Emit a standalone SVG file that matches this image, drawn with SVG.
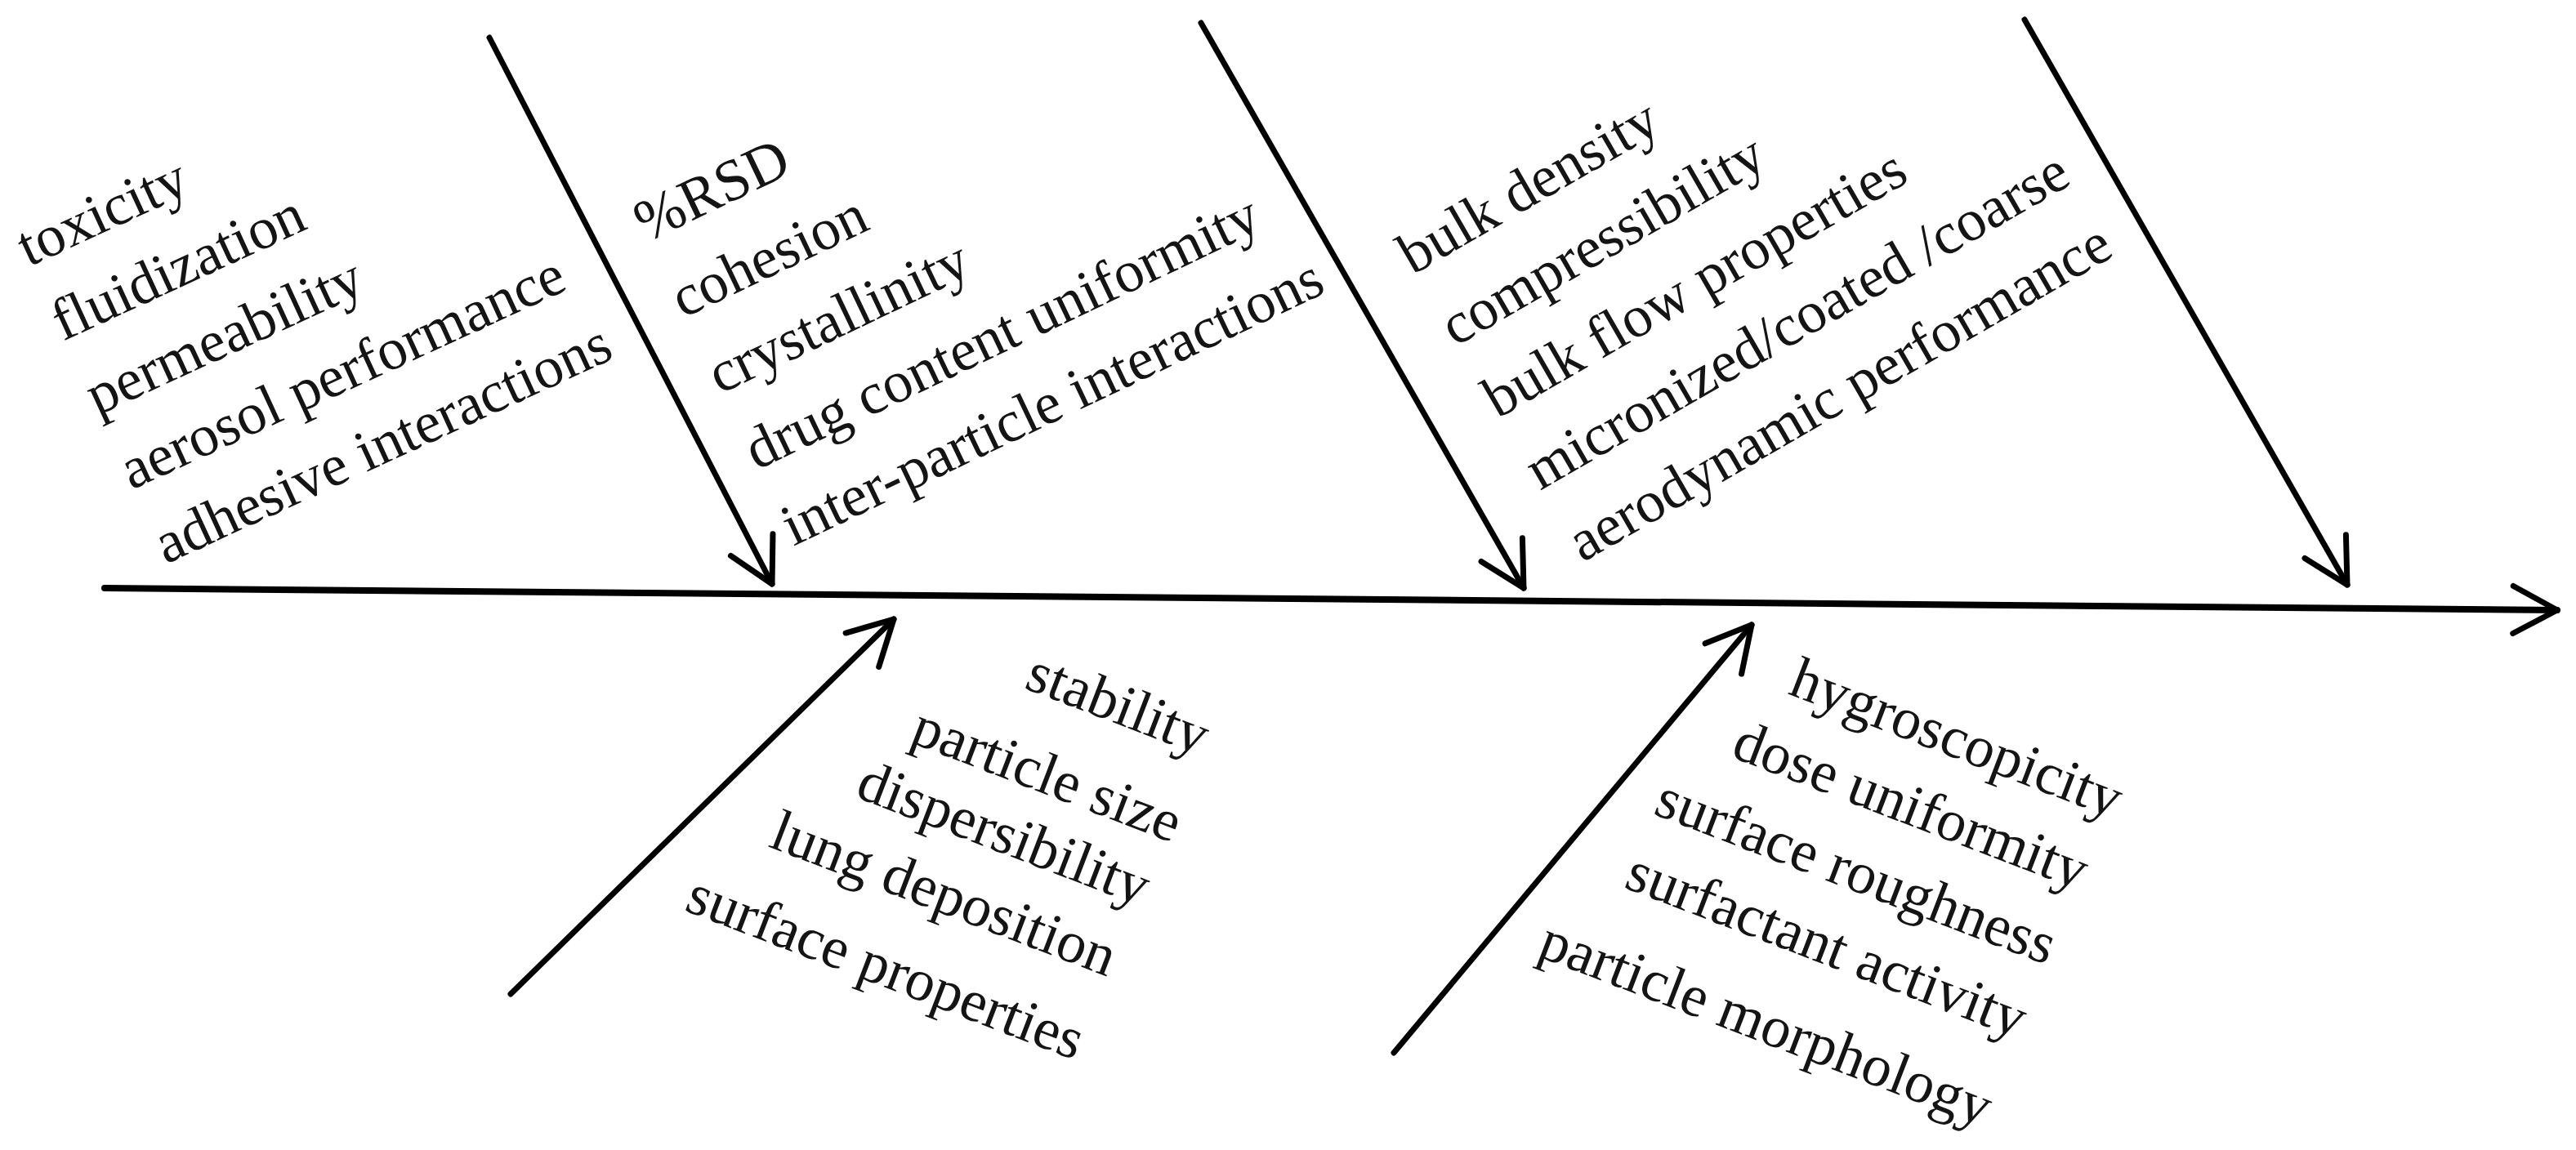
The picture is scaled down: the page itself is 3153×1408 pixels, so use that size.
<svg xmlns="http://www.w3.org/2000/svg" width="3153" height="1408" viewBox="0 0 3153 1408">
<defs>
<marker id="ah" markerUnits="userSpaceOnUse" markerWidth="90" markerHeight="90" viewBox="-70 -45 90 90" refX="0" refY="0" orient="auto">
<path d="M -54 -29 L 0 0 L -54 29" fill="none" stroke="#000" stroke-width="7" stroke-linecap="round" stroke-linejoin="round"/>
</marker>
<style>
text { font-family: "Liberation Serif", "Times New Roman", serif; font-size: 72px; fill: #141414; }
.conn { stroke: #000; stroke-width: 7; fill: none; stroke-linecap: round; marker-end: url(#ah); }
.spine { stroke-width: 8; }
</style>
</defs>
<rect x="0" y="0" width="3153" height="1408" fill="#fff"/>

<g id="connectors">
<line class="conn spine" x1="128" y1="720" x2="3130" y2="747"/>
<line class="conn" x1="599" y1="46" x2="945" y2="715"/>
<line class="conn" x1="1470" y1="28" x2="1865" y2="720"/>
<line class="conn" x1="2478" y1="24" x2="2873" y2="716"/>
<line class="conn" x1="625" y1="1217" x2="1094" y2="758"/>
<line class="conn" x1="1706" y1="1289" x2="2144" y2="765"/>
</g>

<g id="node-top1">
<text transform="translate(35,327) rotate(-24.7)">toxicity</text>
<text transform="translate(77,418) rotate(-24.7)">fluidization</text>
<text transform="translate(119,509) rotate(-24.7)">permeability</text>
<text transform="translate(161,600) rotate(-24.7)">aerosol performance</text>
<text transform="translate(203,691) rotate(-24.7)">adhesive interactions</text>
</g>

<g id="node-top2">
<text transform="translate(791,297) rotate(-25.5)">%RSD</text>
<text transform="translate(836,390) rotate(-25.5)">cohesion</text>
<text transform="translate(881,483) rotate(-25.5)">crystallinity</text>
<text transform="translate(926,576) rotate(-25.5)">drug content uniformity</text>
<text transform="translate(971,669) rotate(-25.5)">inter-particle interactions</text>
</g>

<g id="node-top3">
<text transform="translate(1729,337) rotate(-30)">bulk density</text>
<text transform="translate(1781,425) rotate(-30)">compressibility</text>
<text transform="translate(1833,513) rotate(-30)">bulk flow properties</text>
<text transform="translate(1885,601) rotate(-30)">micronized/coated /coarse</text>
<text transform="translate(1937,689) rotate(-30)">aerodynamic performance</text>
</g>

<g id="node-bottom1">
<text transform="translate(1252,842) rotate(21)">stability</text>
<text transform="translate(1112,908) rotate(21)">particle size</text>
<text transform="translate(1045,975) rotate(21)">dispersibility</text>
<text transform="translate(939,1036) rotate(21)">lung deposition</text>
<text transform="translate(836,1114) rotate(21)">surface properties</text>
</g>

<g id="node-bottom2">
<text transform="translate(2187,849) rotate(21)">hygroscopicity</text>
<text transform="translate(2117,926) rotate(21)">dose uniformity</text>
<text transform="translate(2022,996) rotate(21)">surface roughness</text>
<text transform="translate(1986,1086) rotate(21)">surfactant activity</text>
<text transform="translate(1880,1170) rotate(21)">particle morphology</text>
</g>
</svg>
